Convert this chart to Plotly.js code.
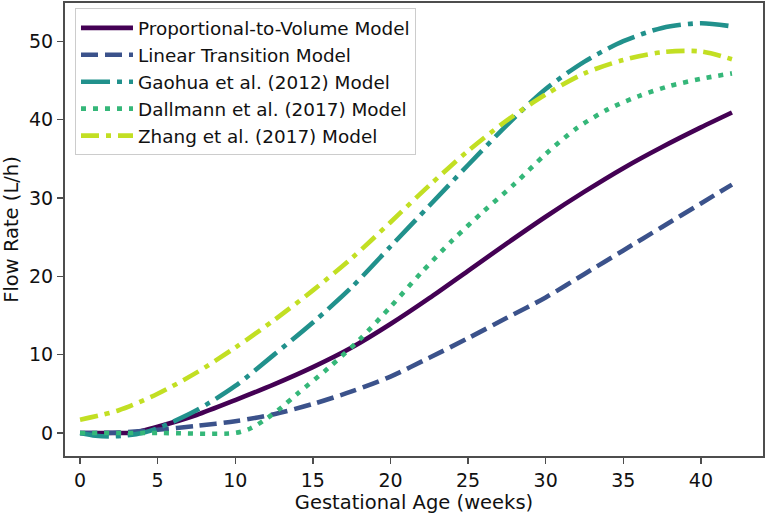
<!DOCTYPE html>
<html>
<head>
<meta charset="utf-8">
<script src="https://cdn.plot.ly/plotly-3.0.1.min.js"></script>
<style>
  html, body { margin: 0; padding: 0; background: #ffffff; }
  #chart { width: 766px; height: 515px; }
</style>
</head>
<body>
<div id="chart"></div>
<script>
// ---- data ----
const seriesNames = [
  "Proportional-to-Volume Model",
  "Linear Transition Model",
  "Gaohua et al. (2012) Model",
  "Dallmann et al. (2017) Model",
  "Zhang et al. (2017) Model"
];

const propX = [0, 1, 2, 3, 3.5, 5, 7.5, 10, 12.5, 15, 17.5, 20, 22.5, 25, 27.5, 30, 32.5, 35, 37.5, 40, 42];
const propY = [0, 0, 0, 0, 0.05, 0.8, 2.3, 4.2, 6.2, 8.4, 10.9, 13.9, 17.2, 20.7, 24.2, 27.6, 30.8, 33.8, 36.5, 39.0, 40.9];

const linX = [0, 2.5, 5, 7.5, 10, 12.5, 15, 17.5, 20, 22.5, 25, 27.5, 30, 32.5, 35, 37.5, 40, 42];
const linY = [0, 0.05, 0.4, 0.9, 1.5, 2.4, 3.7, 5.3, 7.2, 9.6, 12.1, 14.7, 17.3, 20.3, 23.3, 26.3, 29.3, 31.7];

const gaoX = [0, 1, 2, 3, 4, 5, 7.5, 10, 12.5, 15, 17.5, 20, 22.5, 25, 27.5, 30, 32.5, 35, 37.5, 40, 42];
const gaoY = [0, -0.35, -0.45, -0.3, 0, 0.6, 2.9, 6.0, 10.0, 14.1, 18.6, 23.8, 29.0, 34.2, 39.3, 43.9, 47.4, 50.0, 51.7, 52.3, 51.9];

const dalX = [0, 5, 10, 11, 12, 13, 14, 16, 18, 20, 22, 24, 26, 28, 30, 32, 34, 36, 38, 40, 42];
const dalY = [0, 0, 0, 0.6, 1.8, 3.3, 5.0, 8.3, 11.9, 16.1, 20.5, 24.6, 28.3, 31.8, 35.6, 38.9, 41.3, 43.0, 44.3, 45.2, 45.9];

const zhX = [0, 2.5, 5, 7.5, 10, 12.5, 15, 17.5, 20, 22.5, 25, 27.5, 30, 32.5, 35, 37.5, 40, 42];
const zhY = [1.7, 2.9, 5.0, 7.7, 10.9, 14.4, 18.2, 22.3, 26.9, 31.6, 36.0, 39.9, 43.2, 45.9, 47.6, 48.6, 48.7, 47.7];

const xTicks = [0, 5, 10, 15, 20, 25, 30, 35, 40];
const yTicks = [0, 10, 20, 30, 40, 50];

// ---- styles ----
const colors = ["#440154", "#3b528b", "#21918c", "#35b779", "#c2df23"];
const dashes = ["solid", "17px,7px", "29px,7px,5px,7px", "5px,7px", "18px,7px,5px,7px"];
const lw = 4.6;

const xs = [propX, linX, gaoX, dalX, zhX];
const ys = [propY, linY, gaoY, dalY, zhY];

const traces = seriesNames.map((name, i) => ({
  type: "scatter",
  mode: "lines",
  name: name,
  x: xs[i],
  y: ys[i],
  legendgroup: "g" + i,
  line: { color: colors[i], width: lw, dash: dashes[i], shape: "spline", smoothing: 0.8 },
  hoverinfo: "skip"
}));

const axisCommon = {
  showgrid: false,
  zeroline: false,
  showline: true,
  mirror: true,
  linecolor: "#4d4d4d",
  linewidth: 2,
  ticks: "outside",
  ticklen: 6,
  tickwidth: 1.3,
  tickcolor: "#4d4d4d",
  tickfont: { family: "DejaVu Sans", size: 19, color: "#111111" }
};

const layout = {
  width: 766,
  height: 515,
  margin: { l: 65, r: 3, t: 3, b: 59 },
  paper_bgcolor: "#ffffff",
  plot_bgcolor: "#ffffff",
  font: { family: "DejaVu Sans", color: "#111111" },
  showlegend: true,
  legend: {
    x: 0.0143, y: 0.988, xanchor: "left", yanchor: "top",
    bgcolor: "rgba(255,255,255,0.85)",
    bordercolor: "#cccccc",
    borderwidth: 1,
    itemwidth: 52,
    font: { family: "DejaVu Sans", size: 18.4, color: "#111111" },
    tracegroupgap: 0
  },
  xaxis: Object.assign({}, axisCommon, {
    range: [-0.97, 44.0],
    tickvals: xTicks,
    ticktext: xTicks.map(String),
    title: { text: "Gestational Age (weeks)", font: { family: "DejaVu Sans", size: 19.5, color: "#111111" }, standoff: 6 }
  }),
  yaxis: Object.assign({}, axisCommon, {
    range: [-2.94, 54.88],
    tickvals: yTicks,
    ticktext: yTicks.map(String),
    title: { text: "Flow Rate (L/h)", font: { family: "DejaVu Sans", size: 19.5, color: "#111111" }, standoff: 8 }
  })
};

Plotly.newPlot("chart", traces, layout, { staticPlot: true, displayModeBar: false });
</script>
</body>
</html>
